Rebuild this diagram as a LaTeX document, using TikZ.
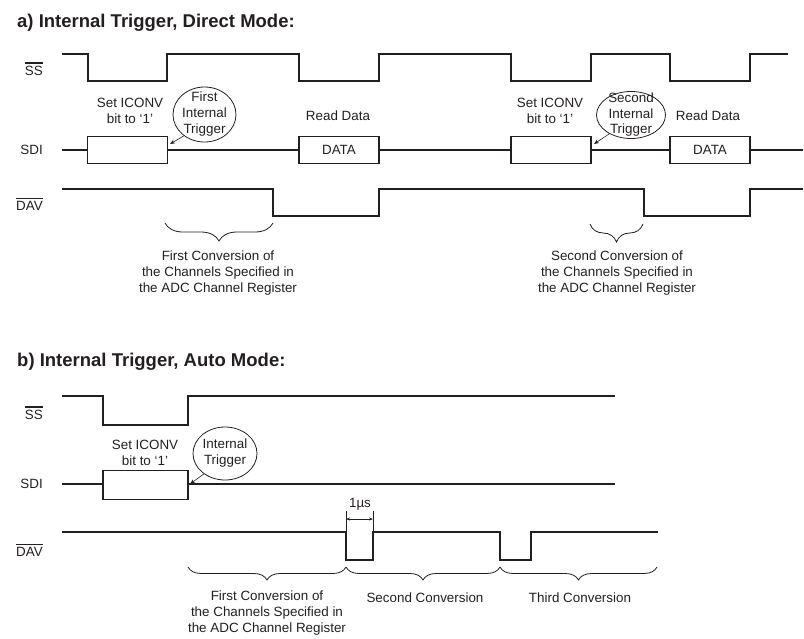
\documentclass[tikz,border=0pt]{standalone}
\usepackage{fontspec}
\setmainfont{Liberation Sans}
\usetikzlibrary{shapes.geometric,decorations.pathreplacing,arrows.meta}
\definecolor{ink}{HTML}{231F20}
\newcommand{\ovl}[1]{\setbox0\hbox{#1}\rlap{\rule[\dimexpr\ht0+2.4pt\relax]{\wd0}{1.2pt}}\box0}
\begin{document}
\begin{tikzpicture}[x=1pt,y=-1pt,
  every node/.style={font=\fontsize{13.4}{16}\selectfont, text=ink},
  sig/.style={draw=ink, line width=1.6pt, line join=miter},
  bus/.style={draw=ink, line width=1.4pt},
  databox/.style={draw=ink, line width=1.6pt, minimum width=80pt, minimum height=27pt, inner sep=0pt},
  trig/.style={ellipse, draw=ink, line width=0.8pt, inner sep=0pt},
  brc/.style={draw=ink, line width=0.8pt, decorate, decoration={brace, mirror, amplitude=#1}},
  brc/.default=18pt,
  sname/.style={anchor=east, inner sep=0pt},
  ttl/.style={anchor=base west, inner sep=0pt, font=\bfseries\fontsize{18.5}{21}\selectfont},
  pointer/.style={draw=ink, line width=0.6pt, -{Stealth[length=5pt,width=4pt]}},
  dim/.style={draw=ink, line width=0.6pt, {Stealth[length=4pt,width=3pt]}-{Stealth[length=4pt,width=3pt]}},
  tick/.style={draw=ink, line width=0.6pt}]
\useasboundingbox (0,0) rectangle (804,638);

% ---------------- a) ----------------
\node[ttl] (ta) at (17,27) {a) Internal Trigger, Direct Mode:};

\node[sname] (ssA) at (43,69) {\ovl{SS}};
\node[sname] (sdiA) at (43,150) {SDI};
\node[sname] (davA) at (43,204) {\ovl{DAV}};

% SS
\draw[sig] (62,54) -- (88,54) -- (88,81) -- (167,81) -- (167,54) -- (299,54) -- (299,81)
  -- (379,81) -- (379,54) -- (511,54) -- (511,81) -- (591,81) -- (591,54) -- (670,54)
  -- (670,81) -- (750,81) -- (750,54) -- (788,54);

% SDI
\coordinate (sa0) at (62,150);
\coordinate (sa1) at (803,150);
\node[databox] (b1) at (127.5,150) {};
\node[databox] (d1) at (339,150) {DATA};
\node[databox] (b2) at (551,150) {};
\node[databox] (d2) at (710,150) {DATA};
\draw[bus] (sa0) -- (b1.west);
\draw[bus] (b1.east) -- (d1.west);
\draw[bus] (d1.east) -- (b2.west);
\draw[bus] (b2.east) -- (d2.west);
\draw[bus] (d2.east) -- (sa1);

% DAV
\draw[sig] (62,189) -- (273,189) -- (273,216) -- (379,216) -- (379,189) -- (644,189)
  -- (644,216) -- (750,216) -- (750,189) -- (803,189);

% labels
\node[align=center] (set1) at (130,111) {Set ICONV\\bit to ‘1’};
\node[align=center] (set2) at (550,111) {Set ICONV\\bit to ‘1’};
\node (rd1) at (338,116) {Read Data};
\node (rd2) at (708,116) {Read Data};

\node[trig, minimum width=63pt, minimum height=55pt] (e1) at (204.5,114.5) {};
\node[align=center, inner sep=0pt, font=\fontsize{13.4}{16}\selectfont] (e1t) at (e1.center) {First\\Internal\\Trigger};
\coordinate (p1) at (170,144);
\draw[pointer] (e1.226) -- (p1);

\node[trig, minimum width=69pt, minimum height=47pt] (e2) at (631,115) {};
\node[align=center, inner sep=0pt, font=\fontsize{13.4}{15.5}\selectfont] (e2t) at (e2.center) {Second\\Internal\\Trigger};
\coordinate (p2) at (594,144);
\draw[pointer] (e2.221) -- (p2);

% braces
\coordinate (bA1) at (165,223);
\coordinate (bA2) at (273,223);
\coordinate (bA3) at (590,224);
\coordinate (bA4) at (643,224);
\draw[brc] (bA1) -- (bA2);
\draw[brc] (bA3) -- (bA4);
\node[align=center] (cA1) at (218,273) {First Conversion of\\the Channels Specified in\\the ADC Channel Register};
\node[align=center] (cA2) at (617,273) {Second Conversion of\\the Channels Specified in\\the ADC Channel Register};

% ---------------- b) ----------------
\node[ttl] (tb) at (17,366) {b) Internal Trigger, Auto Mode:};

\node[sname] (ssB) at (43,413) {\ovl{SS}};
\node[sname] (sdiB) at (43,484) {SDI};
\node[sname] (davB) at (43,550) {\ovl{DAV}};

% SS
\draw[sig] (62,396) -- (103,396) -- (103,425) -- (188,425) -- (188,396) -- (615,396);

% SDI
\coordinate (sb0) at (62,484);
\coordinate (sb1) at (615,484);
\node[databox, minimum width=85pt, minimum height=29pt] (b3) at (145.5,485) {};
\draw[bus] (sb0) -- (b3.west |- sb0);
\draw[bus] (b3.east |- sb0) -- (sb1);
\coordinate (mk0) at (316,484);
\coordinate (mk1) at (331,484);
\draw[draw=ink, line width=2.4pt] (mk0) -- (mk1);

% DAV
\draw[sig] (62,532) -- (346,532) -- (346,560) -- (373,560) -- (373,532) -- (500,532)
  -- (500,560) -- (531,560) -- (531,532) -- (658,532);

\node[align=center] (set3) at (145,453) {Set ICONV\\bit to ‘1’};
\node[trig, minimum width=64pt, minimum height=53pt] (e3) at (225,453.5) {};
\node[align=center, inner sep=0pt] (e3t) at (e3.center) {Internal\\Trigger};
\coordinate (p3) at (190,484);
\draw[pointer] (e3.224) -- (p3);

% 1 us
\coordinate (u1) at (346,511);
\coordinate (u2) at (373,511);
\coordinate (u1b) at (346,532);
\coordinate (u2b) at (373,532);
\draw[tick] (u1) -- (u1b);
\draw[tick] (u2) -- (u2b);
\coordinate (a1) at (346,519);
\coordinate (a2) at (373,519);
\draw[dim] (a1) -- (a2);
\node (us) at (360,504) {1µs};

% braces
\coordinate (bB1) at (188,567);
\coordinate (bB2) at (346,567);
\coordinate (bB3) at (500,567);
\coordinate (bB4) at (657,567);
\draw[brc=13pt] (bB1) -- (bB2);
\draw[brc=13pt] (bB2) -- (bB3);
\draw[brc=13pt] (bB3) -- (bB4);
\node[align=center] (cB1) at (267,613) {First Conversion of\\the Channels Specified in\\the ADC Channel Register};
\node (cB2) at (425,598) {Second Conversion};
\node (cB3) at (580,598) {Third Conversion};
\end{tikzpicture}
\end{document}
